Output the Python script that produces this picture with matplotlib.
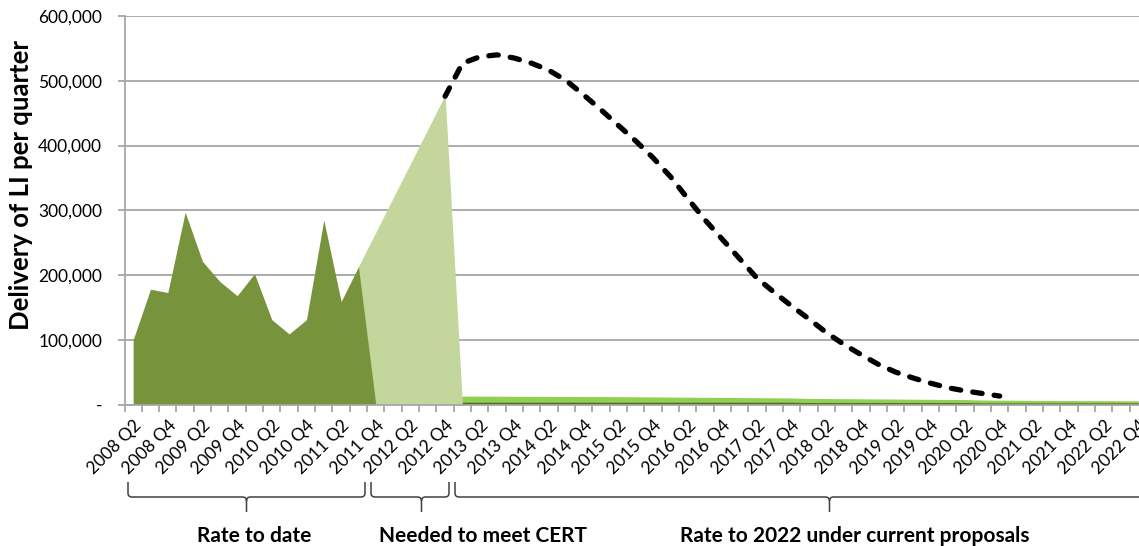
import matplotlib
matplotlib.use("Agg")
import matplotlib.pyplot as plt
import numpy as np
from matplotlib.path import Path
from matplotlib.patches import PathPatch
from matplotlib.ticker import FuncFormatter, FixedLocator

plt.rcParams['font.family'] = ['Lato', 'DejaVu Sans']

# ---------------- data ----------------
years = list(range(2008, 2023))
quarters = [f"{y} Q{q}" for y in years for q in (1, 2, 3, 4)][1:]  # 2008 Q2 .. 2022 Q4 (59)

# Rate to date (dark green), 2008 Q2 .. 2011 Q4
rate_to_date = [100000, 178000, 173000, 297000, 221000, 190000, 168000, 202000,
                131000, 109000, 131000, 285000, 159000, 213000, 0]
# Needed to meet CERT (light green), 2011 Q3 .. 2013 Q2
needed_cert = [213000, 266000, 319000, 372000, 425000, 478000, 0]
needed_start = 13
# Future delivery, 2013 Q2 .. 2022 Q4 (dark base strip + bright green component)
future_base = [3500] * 20 + [3000] * 10 + [2500] * 10
future_top = [9500, 9400, 9300, 9200, 9100, 9000, 8900, 8800, 8700, 8600,
              8400, 8200, 8000, 7800, 7600, 7400, 7200, 7000, 6800, 6600,
              6400, 6200, 6000, 5800, 5600, 5400, 5200, 5000, 4800, 4600,
              4400, 4200, 4000, 3800, 3700, 3600, 3500, 3400, 3300, 3200]
future_start = 19
# Dashed projection, 2012 Q4 .. 2020 Q4
projection = [476000, 527000, 537000, 540000, 535000, 527000, 516000, 500000, 478000, 455000,
              431000, 407000, 381000, 352000, 318000, 285000, 255000, 225000, 195000, 173000,
              152000, 132000, 111000, 93000, 77000, 62000, 50000, 41000, 33000, 26000,
              21000, 17000, 13000]
projection_start = 18

yticks = [0, 100000, 200000, 300000, 400000, 500000, 600000]
group_labels = ["Rate to date", "Needed to meet CERT", "Rate to 2022 under current proposals"]

# ---------------- colours ----------------
DARK = "#77933C"
LIGHT = "#C3D69B"
BRIGHT = "#92D050"
STRIP = "#4F6B28"
GRID = "#A6A6A6"

W, H = 1139, 546
fig = plt.figure(figsize=(W / 100, H / 100), dpi=100)

n = len(quarters)
cat_w = 17.33
left_px, top_px, bot_px = 124.5, 16.0, 404.5
ax = fig.add_axes([left_px / W, 1 - bot_px / H, n * cat_w / W, (bot_px - top_px) / H])

x = np.arange(n) + 0.5

# light green
xn = x[needed_start:needed_start + len(needed_cert)]
xl = np.concatenate([[x[needed_start - 1]], xn])
yl = np.concatenate([[0], needed_cert])
ax.fill_between(xl, 0, yl, color=LIGHT, linewidth=0, zorder=2)

# dark green
xr = x[:len(rate_to_date)]
ax.fill_between(xr, 0, rate_to_date, color=DARK, linewidth=0, zorder=3)

# future stacked
xf = x[future_start:future_start + len(future_base)]
base = np.array(future_base)
top = base + np.array(future_top)
xf2 = np.concatenate([[x[future_start - 1]], xf])
ax.fill_between(xf2, 0, np.concatenate([[0], top]), color=BRIGHT, linewidth=0, zorder=1.5)
ax.fill_between(xf2, 0, np.concatenate([[0], base]), color=STRIP, linewidth=0, zorder=1.6)

# dashed projection
xp = x[projection_start:projection_start + len(projection)]
ax.plot(xp, projection, color="black", lw=3.8, linestyle=(0, (1.8, 2.3)),
        dash_capstyle="round", solid_capstyle="round", zorder=5)

# axes styling
ax.set_xlim(0, n)
ax.set_ylim(0, 600000)
ax.set_yticks(yticks)
ax.yaxis.set_major_formatter(FuncFormatter(lambda v, p: "-" if v == 0 else f"{int(v):,}"))
ax.grid(axis="y", color=GRID, linewidth=1.3, zorder=0)
ax.set_axisbelow(True)
for s in ("top", "right"):
    ax.spines[s].set_visible(False)
ax.spines["left"].set_color(GRID)
ax.spines["bottom"].set_color(GRID)
ax.spines["left"].set_linewidth(1.3)
ax.spines["bottom"].set_linewidth(1.3)
ax.spines["bottom"].set_zorder(6)
ax.tick_params(axis="y", length=5, color=GRID, width=1.3, labelsize=12.5, pad=11, labelcolor="black")

ax.xaxis.set_major_locator(FixedLocator(np.arange(n + 1)))
ax.xaxis.set_major_formatter(FuncFormatter(lambda v, p: ""))
ax.tick_params(axis="x", which="major", length=5, color=GRID, width=1.3)
ax.xaxis.set_minor_locator(FixedLocator(x[::2]))
ax.set_xticklabels([quarters[i] for i in range(0, n, 2)], minor=True)
ax.tick_params(axis="x", which="minor", length=0, pad=9, labelsize=12.5)
for lab in ax.get_xticklabels(minor=True):
    lab.set_rotation(45)
    lab.set_ha("right")
    lab.set_va("top")
    lab.set_rotation_mode("anchor")

# y-axis title placed in figure pixel coordinates
fig.text(21 / W, 1 - 185 / H, "Delivery of LI per quarter", rotation=90,
         ha="center", va="center", fontsize=18.5, fontweight=700, family="Lato")

# braces in figure pixel coords
def px(xp_, yp_):
    return (xp_ / W, 1 - yp_ / H)

def brace(x0, x1, xc, ytop=482, ymid=497, ybot=512, r=4):
    verts = [px(x0, ytop), px(x0, ymid - r), px(x0, ymid), px(x0 + r, ymid),
             px(xc - r, ymid), px(xc, ymid), px(xc, ymid + r), px(xc, ybot),
             px(xc, ymid + r), px(xc, ymid), px(xc + r, ymid),
             px(x1 - r, ymid), px(x1, ymid), px(x1, ymid - r), px(x1, ytop)]
    codes = [Path.MOVETO, Path.LINETO, Path.CURVE3, Path.CURVE3,
             Path.LINETO, Path.CURVE3, Path.CURVE3, Path.LINETO,
             Path.MOVETO, Path.CURVE3, Path.CURVE3,
             Path.LINETO, Path.CURVE3, Path.CURVE3, Path.LINETO]
    p = PathPatch(Path(verts, codes), transform=fig.transFigure, fill=False,
                  edgecolor="#404040", linewidth=1.1)
    fig.patches.append(p)

brace(128, 365, 246.5)
brace(371, 449, 421.5)
brace(455, 1205, 829.5)

label_pos = [254, 482.5, 855]
for lbl, cx in zip(group_labels, label_pos):
    fig.text(cx / W, 1 - 536 / H, lbl, ha="center", va="center",
             fontsize=15, fontweight="bold")

fig.savefig("out.png", dpi=100)
